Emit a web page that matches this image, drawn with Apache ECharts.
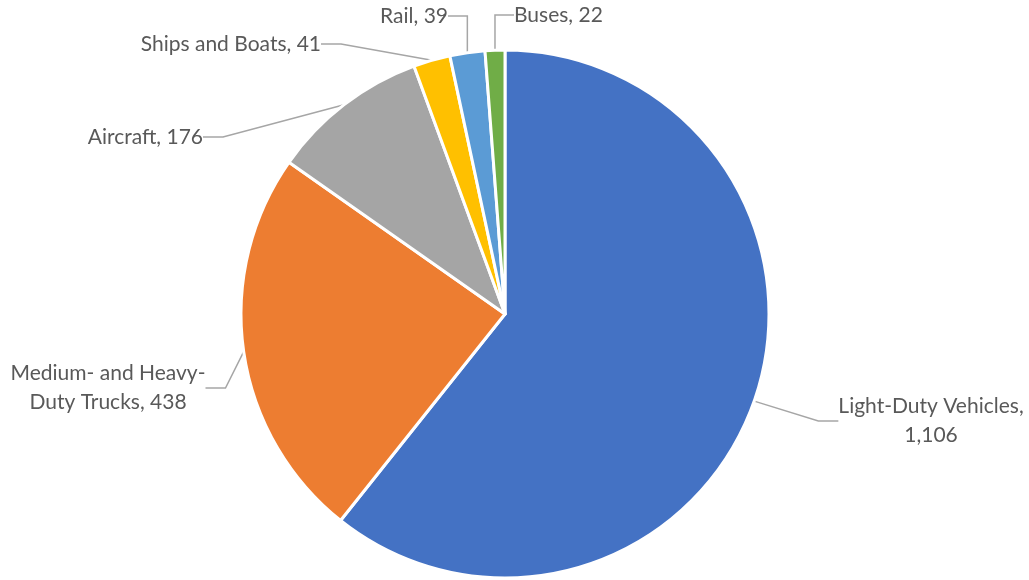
<!DOCTYPE html>
<html>
<head>
<meta charset="utf-8">
<script src="https://cdn.jsdelivr.net/npm/echarts@6/dist/echarts.min.js"></script>
<style>
  html, body { margin: 0; padding: 0; background: #fff; }
  #chart { width: 1029px; height: 580px; }
</style>
</head>
<body>
<div id="chart"></div>
<script>
// categories, values and label text (as shown on the chart)
var categories = ['Light-Duty Vehicles', 'Medium- and Heavy-Duty Trucks', 'Aircraft', 'Ships and Boats', 'Rail', 'Buses'];
var values = [1106, 438, 176, 41, 39, 22];
var labelText = ['Light-Duty Vehicles,\n1,106', 'Medium- and Heavy-\nDuty Trucks, 438', 'Aircraft, 176', 'Ships and Boats, 41', 'Rail, 39', 'Buses, 22'];
var colors = ['#4472C4', '#ED7D31', '#A5A5A5', '#FFC000', '#5B9BD5', '#70AD47'];

// where each label sits (layout only)
var labelPos = [
    { x: 931, y: 421, align: 'center' },
    { x: 108, y: 388, align: 'center' },
    { x: 203, y: 137, align: 'right' },
    { x: 321, y: 44, align: 'right' },
    { x: 448, y: 16, align: 'right' },
    { x: 514, y: 15, align: 'left' }
];

var chart = echarts.init(document.getElementById('chart'));

var pieData = [];
for (var i = 0; i < categories.length; i++) {
    pieData.push({
        name: categories[i],
        value: values[i],
        itemStyle: { color: colors[i] },
        label: { formatter: labelText[i] }
    });
}

var option = {
    backgroundColor: '#fff',
    animation: false,
    series: [{
        type: 'pie',
        center: [505, 314],
        radius: 264,
        startAngle: 90,
        clockwise: true,
        data: pieData,
        itemStyle: {
            borderColor: '#fff',
            borderWidth: 3
        },
        label: {
            show: true,
            color: '#595959',
            fontFamily: 'Lato',
            fontSize: 21,
            lineHeight: 29,
            overflow: 'none'
        },
        labelLine: {
            show: true,
            length: 20,
            length2: 20,
            lineStyle: { color: '#a6a6a6', width: 1.5 }
        },
        labelLayout: function (params) {
            var p = labelPos[params.dataIndex];
            return {
                x: p.x,
                y: p.y,
                align: p.align,
                verticalAlign: 'middle'
            };
        }
    }]
};

chart.setOption(option);
</script>
</body>
</html>
